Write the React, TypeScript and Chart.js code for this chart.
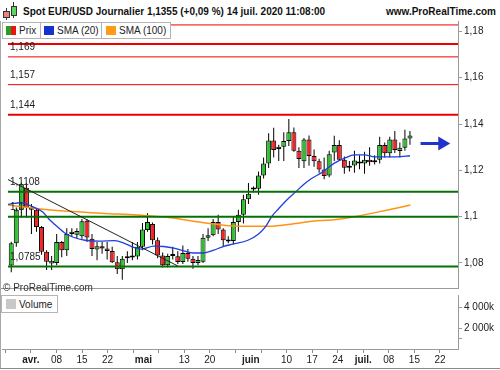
import React, { useEffect, useRef } from 'react';
import { Chart, registerables } from 'chart.js';

Chart.register(...registerables);

// ---------- DATA ----------
const DATES = [
  '2020-03-25','2020-03-26','2020-03-27','2020-03-30','2020-03-31',
  '2020-04-01','2020-04-02','2020-04-03','2020-04-06','2020-04-07','2020-04-08','2020-04-09','2020-04-10',
  '2020-04-13','2020-04-14','2020-04-15','2020-04-16','2020-04-17','2020-04-20','2020-04-21','2020-04-22',
  '2020-04-23','2020-04-24','2020-04-27','2020-04-28','2020-04-29','2020-04-30',
  '2020-05-01','2020-05-04','2020-05-05','2020-05-06','2020-05-07','2020-05-08','2020-05-11','2020-05-12',
  '2020-05-13','2020-05-14','2020-05-15','2020-05-18','2020-05-19','2020-05-20','2020-05-21','2020-05-22',
  '2020-05-25','2020-05-26','2020-05-27','2020-05-28','2020-05-29',
  '2020-06-01','2020-06-02','2020-06-03','2020-06-04','2020-06-05','2020-06-08','2020-06-09','2020-06-10',
  '2020-06-11','2020-06-12','2020-06-15','2020-06-16','2020-06-17','2020-06-18','2020-06-19','2020-06-22',
  '2020-06-23','2020-06-24','2020-06-25','2020-06-26','2020-06-29','2020-06-30',
  '2020-07-01','2020-07-02','2020-07-03','2020-07-06','2020-07-07','2020-07-08','2020-07-09','2020-07-10',
  '2020-07-13','2020-07-14',
];

const OPEN = [
  1.0789,1.0885,1.1030,1.1125,1.1040,
  1.1030,1.0955,1.0848,1.0798,1.0800,1.0890,1.0855,1.0925,
  1.0922,1.0915,1.0982,1.0905,1.0858,1.0872,1.0862,1.0852,
  1.0803,1.0773,1.0820,1.0823,1.0828,1.0870,
  1.0942,1.0968,1.0898,1.0832,1.0790,1.0830,1.0829,1.0804,
  1.0843,1.0818,1.0800,1.0805,1.0909,1.0920,1.0977,1.0944,
  1.0893,1.0895,1.0977,1.1008,1.1075,
  1.1117,1.1120,1.1178,1.1229,1.1329,1.1292,1.1302,1.1327,
  1.1365,1.1285,1.1239,1.1333,1.1262,1.1239,1.1204,1.1178,
  1.1277,1.1309,1.1246,1.1211,1.1221,1.1238,
  1.1229,1.1246,1.1235,1.1246,1.1309,1.1274,1.1333,1.1284,
  1.1298,1.1337,
];
const HIGH = [
  1.0892,1.1040,1.1147,1.1145,1.1055,
  1.1035,1.0960,1.0855,1.0830,1.0925,1.0895,1.0950,1.0950,
  1.0950,1.0990,1.0990,1.0925,1.0890,1.0890,1.0890,1.0870,
  1.0830,1.0830,1.0850,1.0890,1.0890,1.0973,
  1.1015,1.0975,1.0910,1.0845,1.0840,1.0870,1.0850,1.0875,
  1.0860,1.0830,1.0830,1.0925,1.0950,1.0990,1.1008,1.0950,
  1.0915,1.1000,1.1030,1.1095,1.1145,
  1.1130,1.1195,1.1255,1.1360,1.1384,1.1310,1.1365,1.1422,
  1.1385,1.1300,1.1340,1.1350,1.1290,1.1250,1.1255,1.1285,
  1.1349,1.1330,1.1260,1.1240,1.1285,1.1265,
  1.1280,1.1300,1.1265,1.1345,1.1320,1.1345,1.1370,1.1320,
  1.1375,1.1370,
];
const LOW = [
  1.0760,1.0870,1.0995,1.0995,1.0925,
  1.0935,1.0835,1.0770,1.0770,1.0790,1.0825,1.0830,1.0915,
  1.0905,1.0905,1.0890,1.0830,1.0812,1.0840,1.0815,1.0800,
  1.0752,1.0727,1.0800,1.0812,1.0815,1.0855,
  1.0935,1.0880,1.0820,1.0780,1.0780,1.0815,1.0795,1.0795,
  1.0805,1.0775,1.0790,1.0800,1.0895,1.0915,1.0925,1.0870,
  1.0885,1.0880,1.0935,1.0970,1.1055,
  1.1105,1.1095,1.1165,1.1210,1.1255,1.1240,1.1240,1.1305,
  1.1280,1.1210,1.1210,1.1220,1.1215,1.1190,1.1162,1.1170,
  1.1240,1.1240,1.1185,1.1195,1.1190,1.1205,
  1.1185,1.1220,1.1225,1.1230,1.1255,1.1255,1.1275,1.1255,
  1.1285,1.1310,
];
const CLOSE = [
  1.0885,1.1030,1.1140,1.1040,1.1030,
  1.0955,1.0848,1.0805,1.0810,1.0890,1.0855,1.0925,1.0935,
  1.0938,1.0980,1.0910,1.0860,1.0872,1.0862,1.0852,1.0803,
  1.0773,1.0818,1.0823,1.0825,1.0870,1.0945,
  1.0977,1.0898,1.0832,1.0790,1.0830,1.0833,1.0804,1.0843,
  1.0818,1.0800,1.0813,1.0909,1.0920,1.0977,1.0944,1.0898,
  1.0900,1.0977,1.1008,1.1075,1.1099,
  1.1120,1.1178,1.1229,1.1329,1.1288,1.1302,1.1327,1.1365,
  1.1285,1.1249,1.1333,1.1262,1.1239,1.1204,1.1176,1.1270,
  1.1309,1.1246,1.1211,1.1213,1.1242,1.1229,
  1.1246,1.1235,1.1242,1.1309,1.1274,1.1333,1.1288,1.1298,
  1.1337,1.1351,
];

// Moving averages (trading-day position, price)
const SMA20_POS = [-0.65,1.9,4.2,6.2,7.4,8.7,10.7,12.3,14.6,17.5,20.5,22.4,24.4,25.7,28.3,30.2,32.2,34.2,36.1,38.1,40,42,43.9,46.9,49.0,50.5,51.6,53.0,54.5,56.4,58.0,59.5,61.5,64.1,66.1,68,70,72,74.6,76.5,79];
const SMA20 = [1.1053,1.1060,1.1043,1.1021,1.0991,1.0965,1.0928,1.0911,1.0898,1.0894,1.0896,1.0885,1.0866,1.0860,1.0873,1.0871,1.0864,1.0852,1.0843,1.0843,1.0854,1.0871,1.0881,1.0898,1.0925,1.0960,1.1000,1.1035,1.1070,1.1108,1.1140,1.1165,1.1190,1.1232,1.1253,1.1267,1.1267,1.1258,1.1258,1.1258,1.1263];
const SMA100_POS = [-0.65,2.9,6.8,12.1,18.5,25,31.6,36.7,41,45.9,51.1,56.3,59.6,63.5,68,74.6,79.1];
const SMA100 = [1.1050,1.1041,1.1031,1.1022,1.1014,1.1007,1.0995,1.0978,1.0966,1.0958,1.0958,1.0970,1.0980,1.0986,1.1000,1.1029,1.1050];

// Drawn objects
const RESISTANCES = [1.1828, 1.1746, 1.169, 1.157, 1.144];
const SUPPORTS = [1.1108, 1.1, 1.0785];
const TREND_DATES = ['2020-03-24', '2020-05-11'];
const TREND_PRICES = [1.1164, 1.0787];
const ARROW_POS = [81.1, 85.4];
const ARROW_PRICE = 1.1316;

// Axes
const PRICE_TICKS = [1.08, 1.10, 1.12, 1.14, 1.16, 1.18];
const VOLUME_TICKS = [1000000, 2000000, 4000000];
const VOLUME_TICK_LABELS = ['', '2 000k', '4 000k'];
const VOLUME: { x: number; y: number }[] = [];
const WEEK_TICK_DATES = ['2020-03-25','2020-04-01','2020-04-08','2020-04-15','2020-04-22','2020-04-29','2020-05-06','2020-05-13','2020-05-20','2020-05-27','2020-06-03','2020-06-10','2020-06-17','2020-06-24','2020-07-01','2020-07-08','2020-07-15','2020-07-22'];
const WEEK_TICK_LABELS = ['', 'avr.', '08', '15', '22', '', '', '13', '20', '', '', '10', '17', '24', 'juil.', '08', '15', '22'];
const MONTH_DATES = ['2020-05-01', '2020-06-01'];
const MONTH_LABELS = ['mai', 'juin'];
const MONTH_NAMES = ['avr.', 'mai', 'juin', 'juil.'];

// ---------- helpers ----------
const FONT = '"Liberation Sans", Arial, sans-serif';
const GREEN = '#2ec02e';
const RED = '#f52424';
const X_MIN = -0.645;
const X_MAX = 88.52;
const Y_MIN = 1.06918;
const Y_MAX = 1.1845;
const VOL_MAX = 5200000;

const START = Date.UTC(2020, 2, 25);
function tradingIndex(iso: string): number {
  const [y, m, d] = iso.split('-').map(Number);
  const t = Date.UTC(y, m - 1, d);
  let n = 0;
  if (t >= START) {
    for (let c = START; c < t; c += 86400000) {
      const wd = new Date(c).getUTCDay();
      if (wd !== 0 && wd !== 6) n++;
    }
  } else {
    for (let c = START - 86400000; c >= t; c -= 86400000) {
      const wd = new Date(c).getUTCDay();
      if (wd !== 0 && wd !== 6) n--;
    }
  }
  return n;
}
const fmtPrice = (v: number) => String(parseFloat(v.toFixed(4))).replace('.', ',');

const levelLabelPlugin = {
  id: 'levelLabels',
  afterDatasetsDraw(chart: any) {
    const { ctx, chartArea, scales } = chart;
    ctx.save();
    ctx.beginPath();
    ctx.rect(chartArea.left, chartArea.top, chartArea.right - chartArea.left, chartArea.bottom - chartArea.top);
    ctx.clip();
    ctx.font = `10px ${FONT}`;
    ctx.fillStyle = '#222';
    ctx.textBaseline = 'alphabetic';
    ctx.textAlign = 'left';
    [...RESISTANCES, ...SUPPORTS].forEach((v) => {
      const py = scales.y.getPixelForValue(v);
      ctx.fillText(fmtPrice(v), chartArea.left + 2, py - 6.5);
    });
    ctx.restore();
  },
  afterDraw(chart: any) {
    const { ctx, chartArea } = chart;
    ctx.save();
    ctx.strokeStyle = '#9a9a9a';
    ctx.lineWidth = 1;
    ctx.beginPath();
    ctx.moveTo(0, Math.round(chartArea.bottom) + 0.5);
    ctx.lineTo(chartArea.right, Math.round(chartArea.bottom) + 0.5);
    ctx.stroke();
    ctx.restore();
  },
};

function priceConfig(): any {
  const idx = DATES.map((_, i) => i);
  const wicks = idx.map((i) => ({ x: i, y: [LOW[i], HIGH[i]] }));
  const bodies = idx.map((i) => ({ x: i, y: [Math.min(OPEN[i], CLOSE[i]), Math.max(OPEN[i], CLOSE[i])] }));
  const bodyColors = idx.map((i) => (CLOSE[i] >= OPEN[i] ? GREEN : RED));
  const hline = (v: number) => [{ x: X_MIN, y: v }, { x: X_MAX, y: v }];
  const thickRed = [1.1746, 1.144];
  const datasets: any[] = [
    { type: 'bar', label: 'wicks', data: wicks, backgroundColor: '#000', barThickness: 1, grouped: false, inflateAmount: 0, order: 11 },
    {
      type: 'bar', label: 'Prix', data: bodies, backgroundColor: bodyColors, borderColor: '#000', borderWidth: 1,
      borderSkipped: false, barThickness: 5, minBarLength: 2, grouped: false, inflateAmount: 0, order: 10,
    },
    {
      type: 'line', label: 'SMA (100)', data: SMA100_POS.map((x, i) => ({ x, y: SMA100[i] })), borderColor: '#ff9414',
      borderWidth: 1.5, pointRadius: 0, tension: 0.4, cubicInterpolationMode: 'monotone', order: 5,
    },
    {
      type: 'line', label: 'SMA (20)', data: SMA20_POS.map((x, i) => ({ x, y: SMA20[i] })), borderColor: '#1f3fe0',
      borderWidth: 1.3, pointRadius: 0, tension: 0.4, cubicInterpolationMode: 'monotone', order: 4,
    },
    ...RESISTANCES.map((v) => ({
      type: 'line', label: 'R ' + v, data: hline(v), borderColor: '#ee0000', borderWidth: thickRed.includes(v) ? 2 : 1,
      pointRadius: 0, order: 3,
    })),
    ...SUPPORTS.map((v) => ({
      type: 'line', label: 'S ' + v, data: hline(v), borderColor: '#057005', borderWidth: 2, pointRadius: 0, order: 3,
    })),
    {
      type: 'line', label: 'trend', data: TREND_DATES.map((d, i) => ({ x: tradingIndex(d), y: TREND_PRICES[i] })),
      borderColor: '#222', borderWidth: 1, pointRadius: 0, order: 2,
    },
    {
      type: 'line', label: 'arrow', data: ARROW_POS.map((x) => ({ x, y: ARROW_PRICE })), borderColor: '#2233cc',
      borderWidth: 3, pointRadius: [0, 8], pointStyle: 'triangle', rotation: 90, pointBackgroundColor: '#2233cc',
      pointBorderColor: '#2233cc', pointBorderWidth: 0, order: 1,
    },
  ];
  return {
    type: 'bar',
    data: { datasets },
    plugins: [levelLabelPlugin],
    options: {
      responsive: false,
      animation: false,
      events: [],
      layout: { padding: { left: 2, top: 21, right: 0, bottom: 1 } },
      plugins: { legend: { display: false }, tooltip: { enabled: false } },
      scales: {
        x: { type: 'linear', display: false, min: X_MIN, max: X_MAX, offset: false },
        y: {
          type: 'linear', position: 'right', min: Y_MIN, max: Y_MAX, beginAtZero: false,
          afterBuildTicks: (s: any) => { s.ticks = PRICE_TICKS.map((v) => ({ value: v })); },
          afterFit: (s: any) => { s.width = 42; s.paddingTop = 0; s.paddingBottom = 0; },
          ticks: { callback: (v: number) => fmtPrice(v), font: { family: FONT, size: 10 }, color: '#222', padding: 2 },
          grid: { drawOnChartArea: false, drawTicks: true, tickLength: 4, tickColor: '#9a9a9a' },
          border: { display: true, color: '#9a9a9a' },
        },
      },
    },
  };
}

function volumeConfig(): any {
  const labelMap = new Map<number, string>();
  const markSet = new Set<number>();
  WEEK_TICK_DATES.forEach((d, i) => { const k = tradingIndex(d); labelMap.set(k, WEEK_TICK_LABELS[i]); markSet.add(k); });
  MONTH_DATES.forEach((d, i) => { labelMap.set(tradingIndex(d), MONTH_LABELS[i]); });
  const tickValues = Array.from(labelMap.keys()).sort((a, b) => a - b);
  return {
    type: 'bar',
    data: { datasets: [{ label: 'Volume', data: VOLUME, backgroundColor: '#c8c8c8' }] },
    options: {
      responsive: false,
      animation: false,
      events: [],
      layout: { padding: { left: 2, top: 0, right: 0, bottom: 0 } },
      plugins: { legend: { display: false }, tooltip: { enabled: false } },
      scales: {
        x: {
          type: 'linear', min: X_MIN, max: X_MAX, offset: false,
          afterBuildTicks: (s: any) => { s.ticks = tickValues.map((v) => ({ value: v })); },
          afterFit: (s: any) => { s.height = 21; s.paddingLeft = 0; s.paddingRight = 0; },
          ticks: {
            autoSkip: false, maxRotation: 0, minRotation: 0, padding: 1, color: '#222',
            callback: (v: number) => labelMap.get(v) ?? '',
            font: (ctx: any) => ({ family: FONT, size: 10, weight: ctx.tick && MONTH_NAMES.includes(ctx.tick.label) ? 'bold' : 'normal' }),
          },
          grid: {
            drawOnChartArea: false, tickLength: 4, offset: false,
            tickColor: (ctx: any) => (ctx.tick && markSet.has(ctx.tick.value) ? '#8a8a8a' : 'rgba(0,0,0,0)'),
          },
          border: { display: true, color: '#9a9a9a' },
        },
        y: {
          type: 'linear', position: 'right', min: 0, max: VOL_MAX,
          afterBuildTicks: (s: any) => { s.ticks = VOLUME_TICKS.map((v) => ({ value: v })); },
          afterFit: (s: any) => { s.width = 42; s.paddingTop = 0; s.paddingBottom = 0; },
          ticks: {
            callback: (v: number) => VOLUME_TICK_LABELS[VOLUME_TICKS.indexOf(v)] ?? '',
            font: { family: FONT, size: 10 }, color: '#222', padding: 2,
          },
          grid: { drawOnChartArea: false, tickLength: 4, tickColor: '#9a9a9a' },
          border: { display: true, color: '#9a9a9a' },
        },
      },
    },
  };
}

const abs = (s: React.CSSProperties): React.CSSProperties => ({ position: 'absolute', ...s });

export default function App() {
  const priceRef = useRef<HTMLCanvasElement>(null);
  const volRef = useRef<HTMLCanvasElement>(null);

  useEffect(() => {
    document.body.style.margin = '0';
    const c1 = new Chart(priceRef.current as HTMLCanvasElement, priceConfig());
    const c2 = new Chart(volRef.current as HTMLCanvasElement, volumeConfig());
    return () => { c1.destroy(); c2.destroy(); };
  }, []);

  const boxStyle: React.CSSProperties = {
    position: 'absolute', top: 22, height: 17, boxSizing: 'border-box', border: '1px solid #b4b4b4',
    background: '#fff', fontSize: 10, lineHeight: '15px', color: '#222', whiteSpace: 'nowrap',
  };

  return (
    <div style={{ position: 'relative', width: 500, height: 370, background: '#fff', overflow: 'hidden', fontFamily: FONT }}>
      {/* header icon */}
      <div style={abs({ left: 6, top: 8, width: 1, height: 12, background: '#333' })} />
      <div style={abs({ left: 3, top: 11, width: 7, height: 7, boxSizing: 'border-box', border: '1px solid #333', background: '#f08080' })} />
      <div style={abs({ left: 13, top: 2, width: 1, height: 16, background: '#333' })} />
      <div style={abs({ left: 11, top: 6, width: 6, height: 10, boxSizing: 'border-box', border: '1px solid #333', background: '#5cd65c' })} />
      <div style={abs({ left: 23, top: 5, fontSize: 10, fontWeight: 'bold', color: '#111', lineHeight: '13px', whiteSpace: 'nowrap' })}>
        Spot EUR/USD Journalier 1,1355 (+0,09 %) 14 juil. 2020 11:08:00
      </div>
      <div style={abs({ right: 4, top: 5, fontSize: 10, fontWeight: 'bold', color: '#111', lineHeight: '13px', whiteSpace: 'nowrap' })}>
        www.ProRealTime.com
      </div>

      <canvas ref={priceRef} width={500} height={296} style={abs({ left: 0, top: 0, width: 500, height: 296 })} />
      <canvas ref={volRef} width={500} height={75} style={abs({ left: 0, top: 295, width: 500, height: 75 })} />

      {/* legend */}
      <div style={{ ...boxStyle, left: 2, width: 39 }}>
        <span style={abs({ left: 3, top: 3, width: 5, height: 9, background: '#22a022' })} />
        <span style={abs({ left: 8, top: 3, width: 5, height: 9, background: '#ee1111' })} />
        <span style={abs({ left: 16, top: 0 })}>Prix</span>
      </div>
      <div style={{ ...boxStyle, left: 40, width: 62 }}>
        <span style={abs({ left: 3, top: 3, width: 10, height: 9, background: '#1433cc' })} />
        <span style={abs({ left: 16, top: 0 })}>SMA (20)</span>
      </div>
      <div style={{ ...boxStyle, left: 101, width: 70 }}>
        <span style={abs({ left: 4, top: 3, width: 10, height: 9, background: '#ff9a1a' })} />
        <span style={abs({ left: 17, top: 0 })}>SMA (100)</span>
      </div>

      <div style={abs({ left: 3, top: 282, fontSize: 10, lineHeight: '12px', color: '#333', whiteSpace: 'nowrap' })}>© ProRealTime.com</div>

      <div style={{ ...boxStyle, top: 295, left: 1, width: 57, height: 18 }}>
        <span style={abs({ left: 4, top: 3, width: 10, height: 10, background: '#c8c8c8' })} />
        <span style={abs({ left: 17, top: 1 })}>Volume</span>
      </div>

      {/* frame */}
      <div style={abs({ left: 0, top: 21, width: 1, height: 348, background: '#a8a8a8' })} />
      <div style={abs({ left: 0, top: 368, width: 500, height: 1, background: '#8a8a8a' })} />
    </div>
  );
}
